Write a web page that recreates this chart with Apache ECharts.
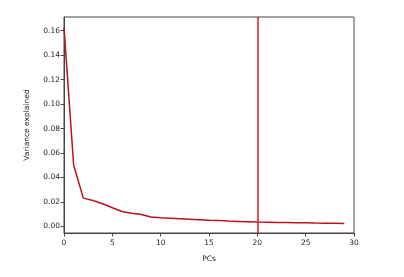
<!DOCTYPE html>
<html>
<head>
<meta charset="utf-8">
<script src="https://cdn.jsdelivr.net/npm/echarts@6/dist/echarts.min.js"></script>
<style>html,body{margin:0;padding:0;background:#fff;}#c{width:404px;height:277px;}</style>
</head>
<body>
<div id="c"></div>
<script>
var pcs = [0,1,2,3,4,5,6,7,8,9,10,11,12,13,14,15,16,17,18,19,20,21,22,23,24,25,26,27,28,29];
var variance = [0.1627,0.0500,0.0231,0.0212,0.0185,0.0152,0.0122,0.0108,0.0098,0.0077,0.0071,0.0067,0.0063,0.0059,0.0055,0.0051,0.0048,0.0044,0.0041,0.0038,0.0035,0.0034,0.0032,0.0031,0.0030,0.0029,0.0027,0.0026,0.0025,0.0024];
var yTicks = [0,0.02,0.04,0.06,0.08,0.10,0.12,0.14,0.16];
var xTicks = [0,5,10,15,20,25,30];
var cutoff = 20;

var chart = echarts.init(document.getElementById('c'), null, {renderer:'canvas'});
var font = 'DejaVu Sans';
chart.setOption({
  animation:false,
  grid:{left:64,top:17,width:290,height:216,show:true,borderColor:'#444',borderWidth:1,backgroundColor:'#fff'},
  xAxis:{type:'value',min:0,max:30,
    name:'PCs',nameLocation:'middle',nameGap:22,
    nameTextStyle:{fontFamily:font,fontSize:7.5,color:'#222'},
    axisLine:{show:true,onZero:false,lineStyle:{color:'#444',width:1}},
    axisTick:{show:true,length:3.5,lineStyle:{color:'#444'},customValues:xTicks},
    axisLabel:{fontFamily:font,fontSize:7.5,color:'#222',margin:6,customValues:xTicks},
    splitLine:{show:false}},
  yAxis:{type:'value',min:-0.0054,max:0.1712,
    name:'Variance explained',nameLocation:'middle',nameGap:33,
    nameTextStyle:{fontFamily:font,fontSize:7.5,color:'#222'},
    axisLine:{show:true,onZero:false,lineStyle:{color:'#444',width:1}},
    axisTick:{show:true,length:3.5,lineStyle:{color:'#444'},customValues:yTicks},
    axisLabel:{fontFamily:font,fontSize:7.5,color:'#222',margin:4,customValues:yTicks,
      formatter:function(v){return v.toFixed(2);}},
    splitLine:{show:false}},
  series:[{
    type:'line',
    data:pcs.map(function(p,i){return [p,variance[i]];}),
    showSymbol:false,
    lineStyle:{color:'#b8141e',width:1.5},
    itemStyle:{color:'#b8141e'},
    markLine:{silent:true,symbol:['none','none'],label:{show:false},
      lineStyle:{color:'#e5161e',width:1.5,type:'solid'},
      data:[{xAxis:cutoff}]}
  }]
});
</script>
</body>
</html>
